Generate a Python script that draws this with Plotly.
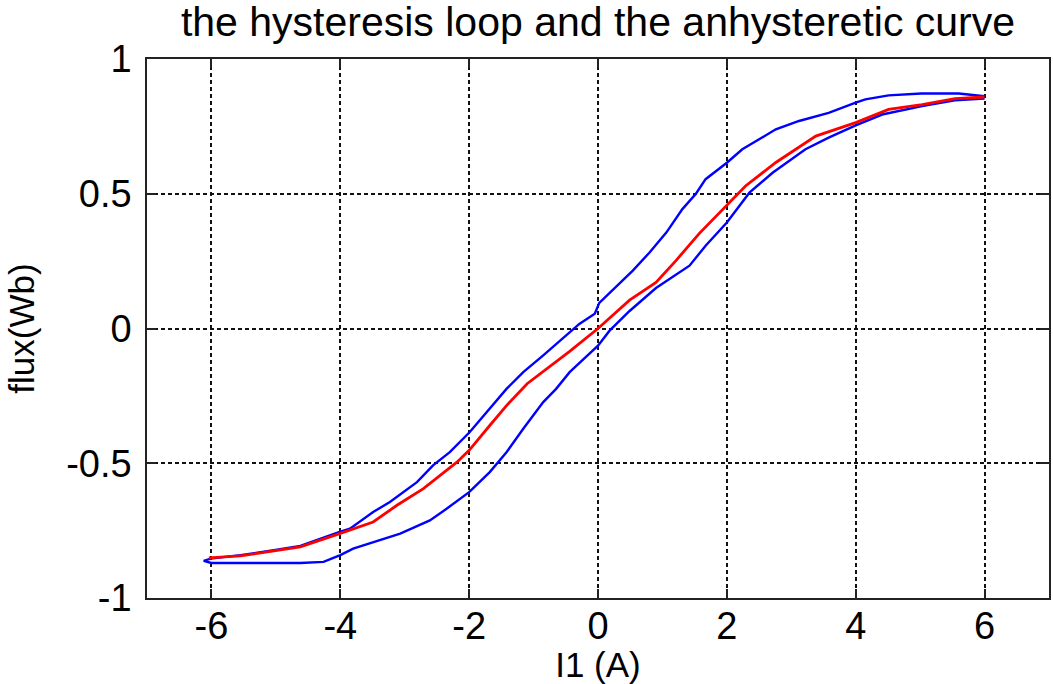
import plotly.graph_objects as go

# Hysteresis loop: descending (upper) branch, then ascending (lower) branch
loop_down_x = [6.0, 5.6, 5.02, 4.51, 4.15, 4.0, 3.58, 3.38, 3.12, 2.76, 2.55, 2.24, 2.0,
               1.67, 1.52, 1.31, 1.06, 0.80, 0.54, 0.02, -0.05, -0.29, -0.85, -1.06,
               -1.16, -1.42, -1.68, -1.99, -2.30, -2.56, -2.81, -3.23, -3.49, -3.85,
               -4.01, -4.31, -4.62, -5.03, -5.55, -6.01, -6.12]
loop_down_y = [0.862, 0.872, 0.872, 0.865, 0.85, 0.838, 0.80, 0.788, 0.77, 0.739, 0.709,
               0.665, 0.615, 0.554, 0.50, 0.443, 0.356, 0.282, 0.215, 0.095, 0.055, 0.017,
               -0.10, -0.144, -0.162, -0.224, -0.298, -0.384, -0.459, -0.508, -0.57,
               -0.644, -0.681, -0.743, -0.755, -0.78, -0.807, -0.823, -0.841, -0.854, -0.862]

loop_up_x = [-6.0, -4.62, -4.26, -4.0, -3.80, -3.38, -3.07, -2.61, -2.35, -2.0, -1.68,
             -1.42, -1.16, -0.85, -0.65, -0.44, 0.0, 0.18, 0.49, 0.90, 1.42, 1.67, 2.0,
             2.35, 2.71, 3.22, 3.58, 4.0, 4.41, 5.03, 5.54, 6.0]
loop_up_y = [-0.870, -0.870, -0.866, -0.841, -0.817, -0.786, -0.761, -0.712, -0.669,
             -0.607, -0.533, -0.459, -0.372, -0.273, -0.224, -0.162, -0.064, -0.008,
             0.065, 0.150, 0.233, 0.307, 0.393, 0.504, 0.578, 0.665, 0.708, 0.754,
             0.794, 0.825, 0.847, 0.853]

# Anhysteretic curve
anhyst_x = [-6.04, -5.55, -5.03, -4.62, -4.01, -3.49, -3.12, -2.71, -2.19, -2.0, -1.68,
            -1.42, -1.1, -0.85, -0.44, 0.0, 0.49, 0.90, 1.21, 1.57, 2.0, 2.29, 2.76,
            3.38, 4.0, 4.51, 5.03, 5.54, 6.0]
anhyst_y = [-0.851, -0.844, -0.825, -0.81, -0.761, -0.718, -0.656, -0.594, -0.496,
            -0.452, -0.36, -0.286, -0.205, -0.16, -0.085, 0.0, 0.105, 0.171, 0.252,
            0.352, 0.46, 0.529, 0.616, 0.714, 0.764, 0.813, 0.831, 0.853, 0.859]

x_ticks = [-6, -4, -2, 0, 2, 4, 6]
y_ticks = [-1, -0.5, 0, 0.5, 1]
y_tick_text = ["-1", "-0.5", "0", "0.5", "1"]

FONT = "Liberation Sans, Arial, sans-serif"

fig = go.Figure()
fig.add_trace(go.Scatter(x=loop_down_x + loop_up_x, y=loop_down_y + loop_up_y,
                         mode="lines", line=dict(color="#0000ff", width=2.4),
                         showlegend=False))
fig.add_trace(go.Scatter(x=anhyst_x, y=anhyst_y, mode="lines",
                         line=dict(color="#ff0000", width=2.8), showlegend=False))

axis_common = dict(showline=True, linecolor="#222222", linewidth=1.5, mirror="ticks",
                   ticks="inside", ticklen=9, tickwidth=1.5, tickcolor="#222222",
                   showgrid=True, gridcolor="#111111", gridwidth=1.6,
                   griddash="4px,3px", zeroline=False,
                   tickfont=dict(family=FONT, size=38, color="black"))

fig.update_xaxes(range=[-7, 7], tickvals=x_ticks, ticktext=[str(v) for v in x_ticks],
                 title=dict(text="I1 (A)", font=dict(family=FONT, size=35, color="black"),
                            standoff=10),
                 ticklabelstandoff=-6, **axis_common)
fig.update_yaxes(range=[-1, 1], tickvals=y_ticks, ticktext=y_tick_text,
                 title=dict(text="flux(Wb)", font=dict(family=FONT, size=35, color="black"),
                            standoff=21),
                 ticklabelstandoff=6, **axis_common)

fig.update_layout(
    width=1053, height=684,
    margin=dict(l=147, r=2, t=59, b=83),
    paper_bgcolor="white", plot_bgcolor="white",
    title=dict(text="the hysteresis loop and the anhysteretic curve",
               font=dict(family=FONT, size=41, color="black"),
               x=0.5, xref="paper", xanchor="center",
               y=1 - 22 / 684, yref="container", yanchor="middle"),
)

fig.write_html("out.html")
